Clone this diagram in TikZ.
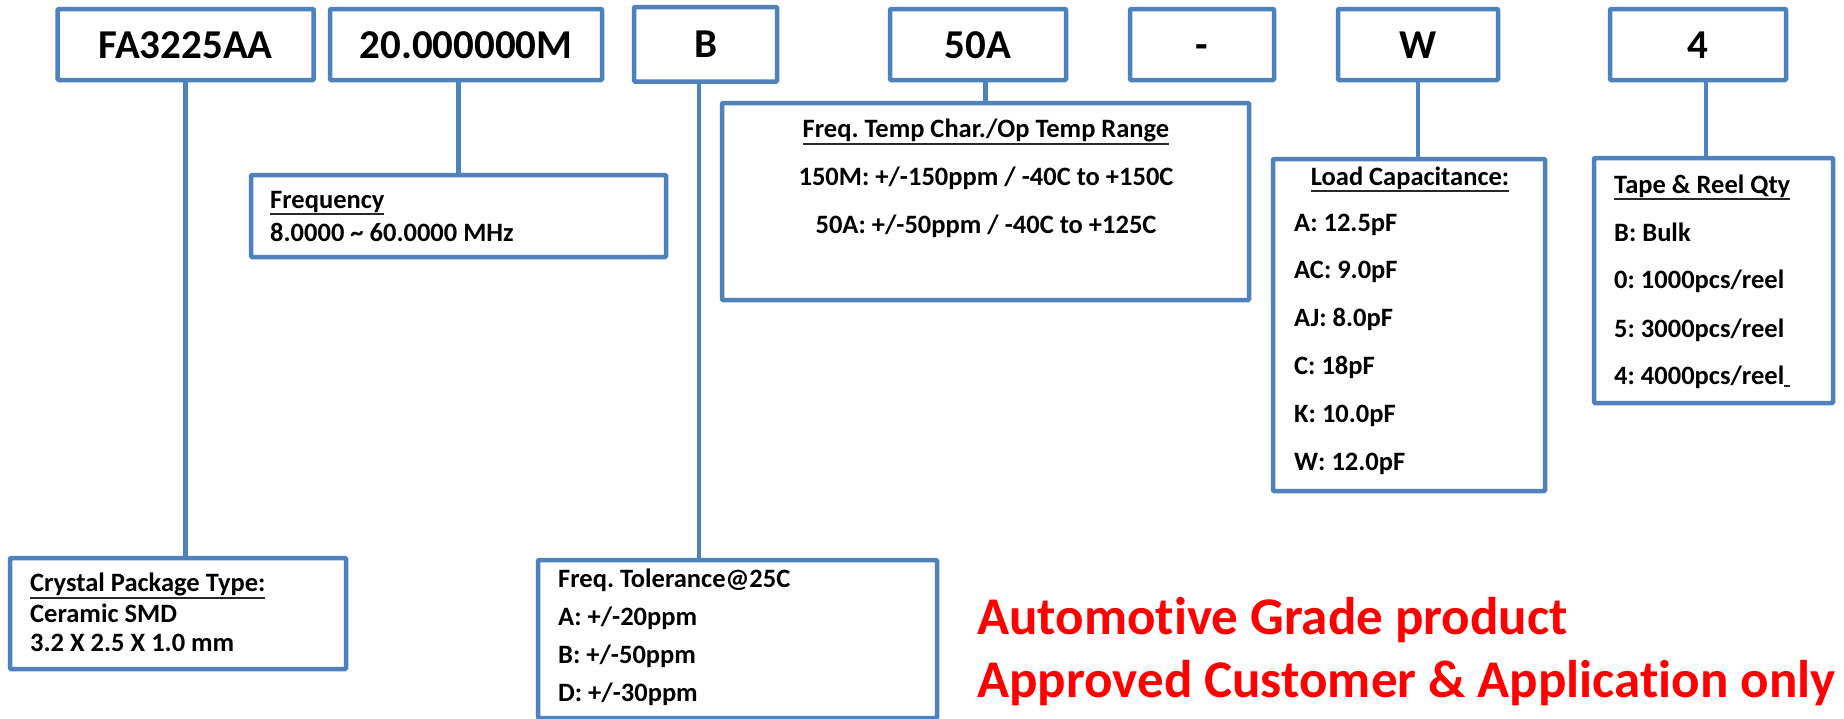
\documentclass[tikz,border=0pt]{standalone}
\usepackage{fontspec}
\setmainfont{Carlito}[Ligatures=NoCommon]
\frenchspacing
\definecolor{bl}{RGB}{79,129,189}
\definecolor{ulc}{RGB}{40,40,40}
\newcommand\myul[1]{\leavevmode\vtop{\hbox{#1}\kern1.3pt{\color{ulc}\hrule height 2pt}}}
\newcommand\bodyf{\fontsize{26.5}{30}\selectfont\bfseries}
\begin{document}
\begin{tikzpicture}[x=1pt,y=-1pt,
  bx/.style={draw=bl, line width=4.5pt, inner sep=0pt, outer sep=0pt, rounded corners=1pt},
  topbox/.style={bx, font=\fontsize{41}{41}\selectfont\bfseries, text height=27pt, text depth=0pt, minimum height=71pt},
  cn/.style={draw=bl, line width=4.5pt},
  tx/.style={inner sep=0pt, font=\bodyf, anchor=base west},
  txc/.style={inner sep=0pt, font=\bodyf, anchor=base},
  red/.style={inner sep=0pt, font=\fontsize{53}{53}\selectfont\bfseries, text=red, anchor=base west}]
\useasboundingbox[fill=white] (0,0) rectangle (1844,718);

% top row
\node[topbox, minimum width=256pt] (fa) at (185.7,44.5) {FA3225AA};
\node[topbox, minimum width=272pt] (m20) at (466,44.5) {20.000000M};
\node[topbox, minimum width=143pt, minimum height=74.5pt] (b) at (705.5,44.3) {B};
\node[topbox, minimum width=176pt] (a50) at (978,44.5) {50A};
\node[topbox, minimum width=144pt] (dash) at (1202,44.5) {-};
\node[topbox, minimum width=160pt] (w) at (1418,44.5) {W};
\node[topbox, minimum width=176pt] (q4) at (1698,44.5) {4};

% description boxes
\node[bx, minimum width=415pt, minimum height=82pt] (freq) at (458.5,216) {};
\node[bx, minimum width=527pt, minimum height=197pt] (temp) at (985.5,201.5) {};
\node[bx, minimum width=272pt, minimum height=332pt] (load) at (1409,325) {};
\node[bx, minimum width=239pt, minimum height=245pt] (tape) at (1713.5,280.5) {};
\node[bx, minimum width=336pt, minimum height=111pt] (crys) at (178,613.5) {};
\node[bx, minimum width=399pt, minimum height=158pt] (tol) at (737.5,639) {};

% connectors
\draw[cn] (fa.south) -- (fa.south |- crys.north);
\draw[cn] (freq.north) -- (freq.north |- m20.south);
\draw[cn] ([xshift=-6.5pt]b.south) -- ([xshift=-6.5pt]b.south |- tol.north);
\draw[cn] (temp.north) -- (temp.north |- a50.south);
\draw[cn] (w.south) -- (w.south |- load.north);
\draw[cn] ([xshift=8pt]q4.south) -- ([xshift=8pt]q4.south |- tape.north);

% Frequency
\node[tx] (f1) at (270,208) {\myul{Frequency}};
\node[tx] (f2) at (270,241) {8.0000 \textasciitilde{} 60.0000 MHz};

% Freq temp
\node[txc] (p1) at (986,137) {\myul{Freq. Temp Char./Op Temp Range}};
\node[txc] (p2) at (986,185) {150M: +/-150ppm / -40C to +150C};
\node[txc] (p3) at (986,233) {50A: +/-50ppm / -40C to +125C};

% Load capacitance
\node[txc] (l0) at (1410,185) {\myul{Load Capacitance:}};
\node[tx] (l1) at (1294,231) {A: 12.5pF};
\node[tx] (l2) at (1294,278) {AC: 9.0pF};
\node[tx] (l3) at (1294,326) {AJ: 8.0pF};
\node[tx] (l4) at (1294,374) {C: 18pF};
\node[tx] (l5) at (1294,422) {K: 10.0pF};
\node[tx] (l6) at (1294,470) {W: 12.0pF};

% Tape & reel
\node[tx] (r0) at (1614,193) {\myul{Tape \& Reel Qty}};
\node[tx] (r1) at (1614,241) {B: Bulk};
\node[tx] (r2) at (1614,288) {0: 1000pcs/reel};
\node[tx] (r3) at (1614,337) {5: 3000pcs/reel};
\node[tx] (r4) at (1614,384) {4: 4000pcs/reel\myul{\hspace{6pt}}};

% Crystal package
\node[tx] (c1) at (30,591) {\myul{Crystal Package Type:}};
\node[tx] (c2) at (30,622) {Ceramic SMD};
\node[tx] (c3) at (30,651) {3.2 X 2.5 X 1.0 mm};

% Tolerance
\node[tx] (o1) at (558,587) {Freq. Tolerance@25C};
\node[tx] (o2) at (558,625) {A: +/-20ppm};
\node[tx] (o3) at (558,663) {B: +/-50ppm};
\node[tx] (o4) at (558,701) {D: +/-30ppm};

% red note
\node[red] (n1) at (977,634) {Automotive Grade product};
\node[red] (n2) at (977,697) {Approved Customer \& Application only};
\end{tikzpicture}
\end{document}
